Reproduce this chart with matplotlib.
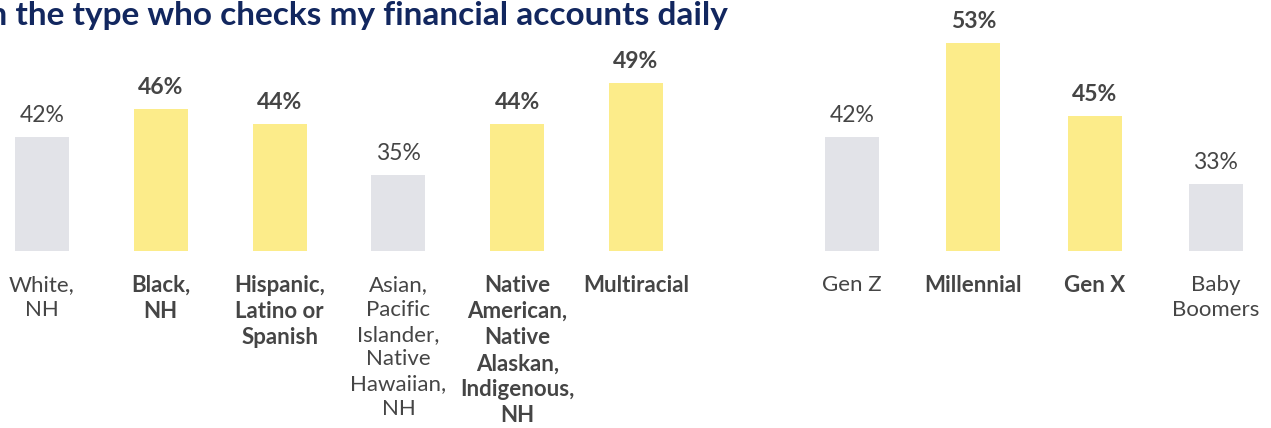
import numpy as np
import matplotlib
matplotlib.use("Agg")
import matplotlib.pyplot as plt
from matplotlib.transforms import ScaledTranslation

# Data
eth_labels = ["White,\nNH", "Black,\nNH", "Hispanic,\nLatino or\nSpanish",
              "Asian,\nPacific\nIslander,\nNative\nHawaiian,\nNH",
              "Native\nAmerican,\nNative\nAlaskan,\nIndigenous,\nNH", "Multiracial"]
eth_values = [42, 46, 44, 35, 44, 49]
eth_highlight = [False, True, True, False, True, True]

gen_labels = ["Gen Z", "Millennial", "Gen X", "Baby\nBoomers"]
gen_values = [42, 53, 45, 33]
gen_highlight = [False, True, True, False]

title = "I\u2019m the type who checks my financial accounts daily"

YELLOW = "#fcec8a"
GREY = "#e2e3e8"
TEXT = "#454545"
NAVY = "#12275f"
FONT = "Lato"

W, H, DPI = 1271, 428, 100
fig = plt.figure(figsize=(W / DPI, H / DPI), dpi=DPI)
fig.patch.set_facecolor("white")

base_px = 251      # bar baseline, pixels from top

# the source chart stretches the bars non-linearly, an exponential
# scale reproduces their heights well
B = 0.0495


def fwd(v):
    return np.exp(B * np.asarray(v, dtype=float)) - 1


def inv(u):
    return np.log(np.maximum(np.asarray(u, dtype=float) + 1, 1e-12)) / B


ytop = inv(base_px / 16.27)


def draw_group(left_px, right_px, first_center_px, step_px, labels, values, hl):
    ax = fig.add_axes([left_px / W, (H - base_px) / H,
                       (right_px - left_px) / W, base_px / H])
    x = np.arange(len(values))
    ax.set_xlim((left_px - first_center_px) / step_px,
                (right_px - first_center_px) / step_px)
    ax.set_yscale("function", functions=(fwd, inv))
    ax.set_ylim(0, ytop)
    ax.axis("off")
    colors = [YELLOW if h else GREY for h in hl]
    bars = ax.bar(x, values, width=54 / step_px, color=colors)
    for b, v, h in zip(bars, values, hl):
        ax.annotate(f"{v}%", (b.get_x() + b.get_width() / 2, v),
                    xytext=(0, 8), textcoords="offset points",
                    ha="center", va="bottom", fontsize=16.5, color=TEXT,
                    fontweight="bold" if h else "normal", family=FONT,
                    annotation_clip=False)
    # category labels sit a little below the baseline
    down = ax.transData + ScaledTranslation(0, -24 / DPI, fig.dpi_scale_trans)
    for xi, lab, h in zip(x, labels, hl):
        ax.text(xi, 0, lab, transform=down,
                ha="center", va="top", fontsize=16, color=TEXT,
                fontweight="bold" if h else "normal", family=FONT,
                linespacing=1.3, clip_on=False)
    return ax


draw_group(0, 720, 42, 118.8, eth_labels, eth_values, eth_highlight)
draw_group(780, 1271, 852, 121.3, gen_labels, gen_values, gen_highlight)

# Title: the first word runs off the left edge as in the reference
TSIZE = 24
fig.canvas.draw()
r = fig.canvas.get_renderer()
probe = fig.text(0, 0, "I\u2019m ", fontsize=TSIZE, fontweight="bold", family=FONT)
shift = probe.get_window_extent(r).width
probe.remove()
fig.text((15 - shift) / W, 1 - 25 / H, title, fontsize=TSIZE, fontweight="bold",
         color=NAVY, family=FONT, ha="left", va="baseline")

fig.savefig("out.png", dpi=DPI)
